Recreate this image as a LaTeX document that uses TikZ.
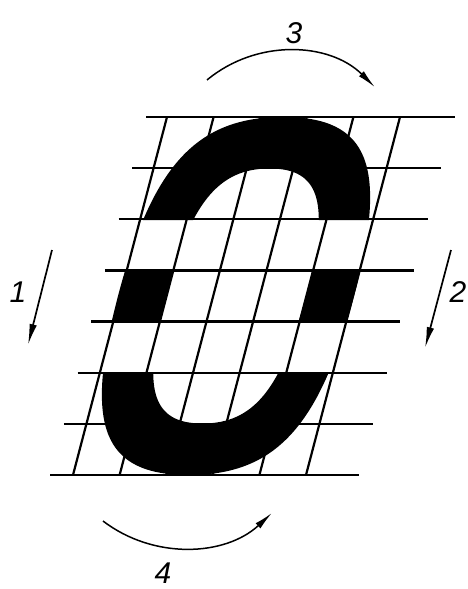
\documentclass[tikz,border=0pt]{standalone}
\usepackage{fontspec}
\setmainfont{Liberation Sans}
\usetikzlibrary{arrows.meta}
\tikzset{
  gridline/.style={line width=2.2pt, black},
  ringfill/.style={fill=black, even odd rule},
  arrowline/.style={line width=1.7pt, -{Latex[length=21pt,width=7.5pt]}},
  arcline/.style={line width=1.5pt, -{Latex[length=19pt,width=7pt]}},
  digit/.style={font=\fontsize{30}{30}\selectfont\itshape, inner sep=0pt}
}
\begin{document}
\begin{tikzpicture}[x=1pt,y=-1pt]
\useasboundingbox (0,0) rectangle (468,589);
% black ring, visible in three bands
\begin{scope}
  \clip (0,117) rectangle (468,220) (0,271) rectangle (468,322) (0,373) rectangle (468,475);
  \begin{scope}[shift={(236,296)}, xslant=0.263]
    \fill[ringfill]
      (118,0) .. controls (118,130.7) and (86.1,179) .. (0,179)
      .. controls (-86.1,179) and (-118,130.7) .. (-118,0)
      .. controls (-118,-130.7) and (-86.1,-179) .. (0,-179)
      .. controls (86.1,-179) and (118,-130.7) .. (118,0) -- cycle
      (70,0) .. controls (70,93.1) and (51.1,127.5) .. (0,127.5)
      .. controls (-51.1,127.5) and (-70,93.1) .. (-70,0)
      .. controls (-70,-93.1) and (-51.1,-127.5) .. (0,-127.5)
      .. controls (51.1,-127.5) and (70,-93.1) .. (70,0) -- cycle;
  \end{scope}
\end{scope}
% grid
\foreach \i in {0,...,7}{
  \coordinate (hL\i) at ({146-13.7*\i},{117+51.14*\i});
  \coordinate (hR\i) at ({455-13.7*\i},{117+51.14*\i});
  \draw[gridline] (hL\i) -- (hR\i);
}
\foreach \j in {0,...,5}{
  \coordinate (sT\j) at ({167+46.6*\j},117);
  \coordinate (sB\j) at ({73+46.6*\j},475);
  \draw[gridline] (sT\j) -- (sB\j);
}
% arrow 1
\coordinate (a1s) at (52,250);
\coordinate (a1e) at (28,345);
\draw[arrowline] (a1s) -- (a1e);
\node[digit] (l1) at (18,292) {1};
% arrow 2
\coordinate (a2s) at (451,250);
\coordinate (a2e) at (425,348);
\draw[arrowline] (a2s) -- (a2e);
\node[digit] (l2) at (458,292) {2};
% arrow 3
\coordinate (a3s) at (207,80);
\draw[arcline] (a3s) arc[start angle=129.8, end angle=45.3, radius=125pt];
\node[digit] (l3) at (294,33) {3};
% arrow 4
\coordinate (a4s) at (103,521);
\draw[arcline] (a4s) arc[start angle=232.6, end angle=312.9, radius=131.2pt];
\node[digit] (l4) at (163,573) {4};
\end{tikzpicture}
\end{document}
